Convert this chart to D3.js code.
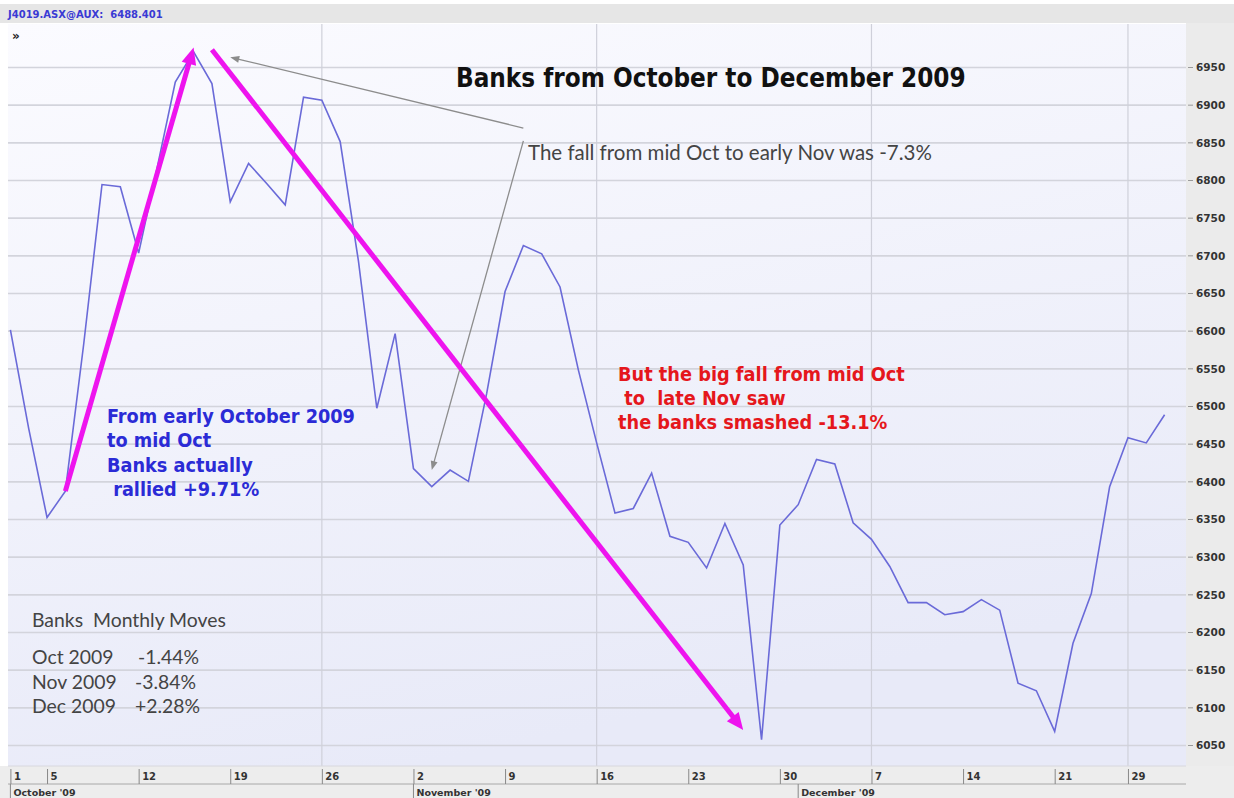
<!DOCTYPE html>
<html>
<head>
<meta charset="utf-8">
<script src="https://cdn.jsdelivr.net/npm/d3@7"></script>
<style>
  html, body { margin: 0; padding: 0; background: #ffffff; }
  svg { display: block; }
  text { white-space: pre; }
</style>
</head>
<body>
<svg id="chart" width="1234" height="798"></svg>
<script>
// ASX trading days, Oct-Dec 2009 (holidays 25 and 28 Dec excluded)
const tradingDays = [
  "2009-10-01","2009-10-02","2009-10-05","2009-10-06","2009-10-07","2009-10-08","2009-10-09",
  "2009-10-12","2009-10-13","2009-10-14","2009-10-15","2009-10-16",
  "2009-10-19","2009-10-20","2009-10-21","2009-10-22","2009-10-23",
  "2009-10-26","2009-10-27","2009-10-28","2009-10-29","2009-10-30",
  "2009-11-02","2009-11-03","2009-11-04","2009-11-05","2009-11-06",
  "2009-11-09","2009-11-10","2009-11-11","2009-11-12","2009-11-13",
  "2009-11-16","2009-11-17","2009-11-18","2009-11-19","2009-11-20",
  "2009-11-23","2009-11-24","2009-11-25","2009-11-26","2009-11-27",
  "2009-11-30","2009-12-01","2009-12-02","2009-12-03","2009-12-04",
  "2009-12-07","2009-12-08","2009-12-09","2009-12-10","2009-12-11",
  "2009-12-14","2009-12-15","2009-12-16","2009-12-17","2009-12-18",
  "2009-12-21","2009-12-22","2009-12-23","2009-12-24",
  "2009-12-29","2009-12-30","2009-12-31"
];

// Banks index close
const closeValues = [
  6601, 6470, 6352, 6387, 6582, 6794, 6791,
  6703, 6815, 6930, 6970, 6928,
  6771, 6822, 6795, 6767, 6910,
  6906, 6851, 6692, 6497, 6596,
  6417, 6393, 6415, 6400, 6517,
  6652, 6713, 6702, 6658, 6548,
  6451, 6358, 6364, 6411, 6327,
  6319, 6285, 6344, 6289, 6057,
  6342, 6369, 6429, 6423, 6345,
  6323, 6287, 6239, 6239, 6223,
  6227, 6243, 6229, 6132, 6122,
  6068, 6185, 6251, 6393,
  6458, 6451, 6488.401
];

const yTicks = [6050, 6100, 6150, 6200, 6250, 6300, 6350, 6400, 6450, 6500,
                6550, 6600, 6650, 6700, 6750, 6800, 6850, 6900, 6950];

const xTickDays   = ["2009-10-01","2009-10-05","2009-10-12","2009-10-19","2009-10-26",
                     "2009-11-02","2009-11-09","2009-11-16","2009-11-23","2009-11-30",
                     "2009-12-07","2009-12-14","2009-12-21","2009-12-29"];
const xTickLabels = ["1","5","12","19","26","2","9","16","23","30","7","14","21","29"];

const monthStarts = ["2009-10-01","2009-11-02","2009-12-01"];
const monthLabels = ["October '09","November '09","December '09"];

const verticalGridDays = ["2009-10-26","2009-11-16","2009-12-07","2009-12-29"];

const tickerName = "J4019.ASX@AUX:";
const lastClose = "6488.401";

const chartTitle = "Banks from October to December 2009";
const fallNote = "The fall from mid Oct to early Nov was -7.3%";
const rallyNote = ["From early October 2009", "to mid Oct", "Banks actually", " rallied +9.71%"];
const smashNote = ["But the big fall from mid Oct", " to  late Nov saw", "the banks smashed -13.1%"];

const movesTitle = "Banks  Monthly Moves";
const movesMonths = ["Oct 2009", "Nov 2009", "Dec 2009"];
const movesValues = ["-1.44%", "-3.84%", "+2.28%"];

// trend arrows (magenta) and pointer arrows (grey), in date/value terms
const trendArrowFrom = [["2009-10-06", 6387], ["2009-10-16", 6973]];
const trendArrowTo   = [["2009-10-15", 6976], ["2009-11-26", 6070]];
const pointerFrom    = [["2009-11-10", 6869], ["2009-11-10", 6852]];
const pointerTo      = [["2009-10-19", 6963], ["2009-11-03", 6415]];

// ---------------------------------------------------------------
const svg = d3.select("#chart");
const W = 1234, H = 798;
const plot = { left: 8, right: 1186, top: 24, bottom: 766 };

const x = d3.scalePoint().domain(tradingDays).range([10.4, 1164.6]).padding(0);
const y = d3.scaleLinear().domain([6050, 6950]).range([745, 67]);

// backgrounds
const defs = svg.append("defs");
const grad = defs.append("linearGradient").attr("id", "plotBg")
  .attr("x1", "0").attr("y1", "0").attr("x2", "0.35").attr("y2", "1");
grad.append("stop").attr("offset", "0").attr("stop-color", "#fbfbff");
grad.append("stop").attr("offset", "1").attr("stop-color", "#e8eaf8");

svg.append("rect").attr("x", 0).attr("y", 0).attr("width", W).attr("height", H).attr("fill", "#ffffff");
// header strip
svg.append("rect").attr("x", 0).attr("y", 4).attr("width", W).attr("height", 19).attr("fill", "#e6e6e6");
// right value column
svg.append("rect").attr("x", plot.right).attr("y", 23).attr("width", W - plot.right).attr("height", H - 23).attr("fill", "#ebebeb");
// bottom date rows
svg.append("rect").attr("x", 0).attr("y", plot.bottom).attr("width", W).attr("height", H - plot.bottom).attr("fill", "#ededed");
// plot panel
svg.append("rect").attr("x", plot.left).attr("y", plot.top)
  .attr("width", plot.right - plot.left).attr("height", plot.bottom - plot.top)
  .attr("fill", "url(#plotBg)");

// horizontal grid + right axis
const yAxis = d3.axisRight(y).tickValues(yTicks).tickSize(0).tickPadding(0).tickFormat(d3.format("d"));
const yG = svg.append("g").attr("transform", `translate(${plot.right},0)`).call(yAxis);
yG.select(".domain").remove();
yG.selectAll(".tick line").attr("x1", plot.left - plot.right).attr("x2", 0)
  .attr("stroke", "#d3d4dc").attr("stroke-width", 1.6);
yG.selectAll(".tick").append("line").attr("x1", 2).attr("x2", 7)
  .attr("stroke", "#9a9a9a").attr("stroke-width", 1);
yG.selectAll(".tick text").attr("x", 10).attr("dy", "0.35em")
  .attr("fill", "#333").attr("font-family", "DejaVu Sans").attr("font-weight", "bold")
  .attr("font-size", 10.5).attr("text-anchor", "start");

// vertical grid lines
svg.append("g").selectAll("line").data(verticalGridDays).join("line")
  .attr("x1", d => x(d)).attr("x2", d => x(d))
  .attr("y1", plot.top).attr("y2", plot.bottom)
  .attr("stroke", "#cfd0da").attr("stroke-width", 1.2);

// bottom date axis: day row
const dayRowTop = plot.bottom + 1, dayRowBottom = 784;
svg.append("line").attr("x1", 8).attr("x2", plot.right).attr("y1", dayRowBottom).attr("y2", dayRowBottom)
  .attr("stroke", "#a8a8a8").attr("stroke-width", 1);
svg.append("line").attr("x1", 8).attr("x2", plot.right).attr("y1", plot.bottom).attr("y2", plot.bottom)
  .attr("stroke", "#d8d8de").attr("stroke-width", 1);

const xAxis = d3.axisBottom(x).tickValues(xTickDays).tickSize(0).tickPadding(0)
  .tickFormat((d, i) => xTickLabels[i]);
const xG = svg.append("g").attr("transform", `translate(0,${dayRowTop})`).call(xAxis);
xG.select(".domain").remove();
xG.selectAll(".tick line").attr("y1", 2).attr("y2", dayRowBottom - dayRowTop)
  .attr("stroke", "#888").attr("stroke-width", 1);
xG.selectAll(".tick text").attr("x", 3).attr("y", 13).attr("dy", 0)
  .attr("text-anchor", "start").attr("fill", "#333")
  .attr("font-family", "DejaVu Sans").attr("font-weight", "bold").attr("font-size", 10);

// month row
const monthG = svg.append("g").selectAll("g").data(monthStarts).join("g")
  .attr("transform", d => `translate(${x(d)},${dayRowBottom})`);
monthG.append("line").attr("y1", 0).attr("y2", H - dayRowBottom).attr("stroke", "#888").attr("stroke-width", 1);
monthG.append("text").attr("x", 3).attr("y", 11.5)
  .attr("fill", "#333").attr("font-family", "DejaVu Sans").attr("font-weight", "bold").attr("font-size", 9.5)
  .text((d, i) => monthLabels[i]);

// price line
const line = d3.line().x((d, i) => x(tradingDays[i])).y(d => y(d)).curve(d3.curveLinear);
svg.append("path").datum(closeValues)
  .attr("d", line)
  .attr("fill", "none").attr("stroke", "#6a6ad8").attr("stroke-width", 1.6)
  .attr("stroke-linejoin", "miter");

// header
const header = svg.append("text").attr("x", 8).attr("y", 17.5)
  .attr("fill", "#3a3ad4").attr("font-family", "DejaVu Sans").attr("font-weight", "bold").attr("font-size", 10);
header.append("tspan").text(tickerName);
header.append("tspan").text("  " + lastClose);
svg.append("text").attr("x", 12).attr("y", 40).attr("fill", "#222")
  .attr("font-family", "DejaVu Sans").attr("font-weight", "bold").attr("font-size", 12).text("»");

// helper: scale a text element's font so it spans a given width
function fitWidth(sel, target) {
  const node = sel.node();
  const fs = parseFloat(sel.attr("font-size"));
  const w = node.getComputedTextLength();
  const nfs = fs * target / w;
  sel.attr("font-size", nfs);
  return nfs;
}

// arrows
function arrow(g, p0, p1, color, width, headLen, headHalf) {
  const x0 = x(p0[0]), y0 = y(p0[1]), x1 = x(p1[0]), y1 = y(p1[1]);
  const dx = x1 - x0, dy = y1 - y0, len = Math.hypot(dx, dy);
  const ux = dx / len, uy = dy / len;
  const bx = x1 - ux * headLen, by = y1 - uy * headLen;
  g.append("line").attr("x1", x0).attr("y1", y0).attr("x2", bx + ux * 1).attr("y2", by + uy * 1)
    .attr("stroke", color).attr("stroke-width", width).attr("stroke-linecap", "butt");
  g.append("path")
    .attr("d", `M${x1},${y1}L${bx - uy * headHalf},${by + ux * headHalf}L${bx + uy * headHalf},${by - ux * headHalf}Z`)
    .attr("fill", color);
}
const arrowsG = svg.append("g");
pointerFrom.forEach((p, i) => arrow(arrowsG, p, pointerTo[i], "#8c8c8c", 1.3, 9, 3.5));
trendArrowFrom.forEach((p, i) => arrow(arrowsG, p, trendArrowTo[i], "#ee14ee", 5, 17, 7.5));

// title
const title = svg.append("text").attr("x", 456).attr("y", 87)
  .attr("fill", "#111").attr("font-family", "DejaVu Sans").attr("font-stretch", "condensed")
  .attr("font-weight", "bold").attr("font-size", 24).text(chartTitle);
fitWidth(title, 510);

// grey note
const note = svg.append("text").attr("x", 528).attr("y", 160)
  .attr("fill", "#444").attr("font-family", "Lato").attr("font-size", 17).text(fallNote);
fitWidth(note, 404);

// blue rally note
const rally = svg.append("text").attr("x", 107).attr("y", 423)
  .attr("fill", "#2b2bd6").attr("font-family", "DejaVu Sans").attr("font-stretch", "condensed")
  .attr("font-weight", "bold").attr("font-size", 16);
rally.selectAll("tspan").data(rallyNote).join("tspan")
  .attr("x", 107).attr("y", (d, i) => 423 + i * 24.4).text(d => d);
{
  const probe = svg.append("text").attr("font-family", "DejaVu Sans").attr("font-stretch", "condensed")
    .attr("font-weight", "bold").attr("font-size", 16).text(rallyNote[0]);
  const fs = fitWidth(probe, 248); probe.remove();
  rally.attr("font-size", fs);
}

// red smash note
const smash = svg.append("text")
  .attr("fill", "#e5171c").attr("font-family", "DejaVu Sans").attr("font-stretch", "condensed")
  .attr("font-weight", "bold").attr("font-size", 16);
smash.selectAll("tspan").data(smashNote).join("tspan")
  .attr("x", 618).attr("y", (d, i) => 381 + i * 24).text(d => d);
{
  const probe = svg.append("text").attr("font-family", "DejaVu Sans").attr("font-stretch", "condensed")
    .attr("font-weight", "bold").attr("font-size", 16).text(smashNote[0]);
  const fs = fitWidth(probe, 287); probe.remove();
  smash.attr("font-size", fs);
}

// monthly moves table
const mt = svg.append("text").attr("x", 32).attr("y", 627)
  .attr("fill", "#444").attr("font-family", "Lato").attr("font-size", 17).text(movesTitle);
const mfs = fitWidth(mt, 194);
svg.append("g").selectAll("text").data(movesMonths).join("text")
  .attr("x", 32).attr("y", (d, i) => 664 + i * 24.5)
  .attr("fill", "#444").attr("font-family", "Lato").attr("font-size", mfs).text(d => d);
svg.append("g").selectAll("text").data(movesValues).join("text")
  .attr("x", (d, i) => i === 0 ? 138 : 135).attr("y", (d, i) => 664 + i * 24.5)
  .attr("fill", "#444").attr("font-family", "Lato").attr("font-size", mfs).text(d => d);
</script>
</body>
</html>
